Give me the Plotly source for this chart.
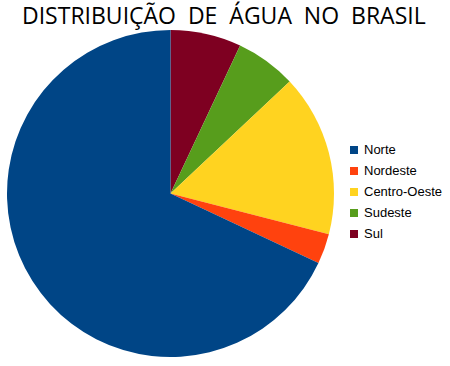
import plotly.graph_objects as go

W, H = 450, 366

regions = ["Norte", "Nordeste", "Centro-Oeste", "Sudeste", "Sul"]
shares = [68, 3, 16, 6, 7]
colors = ["#004586", "#ff420e", "#ffd320", "#579d1c", "#7e0021"]
title = "DISTRIBUIÇÃO  DE  ÁGUA  NO  BRASIL"

# pie placement in pixels
cx, cy, r = 170.5, 193.5, 163.5

# slices run clockwise from 12 o'clock, last region first
fig = go.Figure(go.Pie(
    labels=regions[::-1],
    values=shares[::-1],
    marker=dict(colors=colors[::-1], line=dict(width=0)),
    sort=False,
    direction="clockwise",
    rotation=0,
    textinfo="none",
    hoverinfo="label+percent",
    showlegend=False,
    domain=dict(x=[(cx - r) / W, (cx + r) / W],
                y=[1 - (cy + r) / H, 1 - (cy - r) / H]),
))

# legend drawn as swatches + labels
shapes, annotations = [], []
row0, step = 149.5, 21.0
for i, (name, col) in enumerate(zip(regions, colors)):
    yc = row0 + i * step
    shapes.append(dict(type="rect", xref="paper", yref="paper",
                       x0=350 / W, x1=358 / W,
                       y0=1 - (yc + 4.5) / H, y1=1 - (yc - 3.5) / H,
                       fillcolor=col, line=dict(width=0)))
    annotations.append(dict(text=name, xref="paper", yref="paper",
                            x=362 / W, y=1 - yc / H, xanchor="left",
                            yanchor="middle", showarrow=False,
                            font=dict(family="Liberation Sans", size=13,
                                      color="#000000")))

annotations.append(dict(text=title, xref="paper", yref="paper",
                        x=224 / W, y=1 - 15 / H, xanchor="center",
                        yanchor="middle", showarrow=False,
                        font=dict(family="Open Sans", size=23,
                                  color="#000000")))

fig.update_layout(
    width=W, height=H,
    margin=dict(l=0, r=0, t=0, b=0),
    paper_bgcolor="#ffffff",
    plot_bgcolor="#ffffff",
    shapes=shapes,
    annotations=annotations,
)

fig.write_html("out.html")
